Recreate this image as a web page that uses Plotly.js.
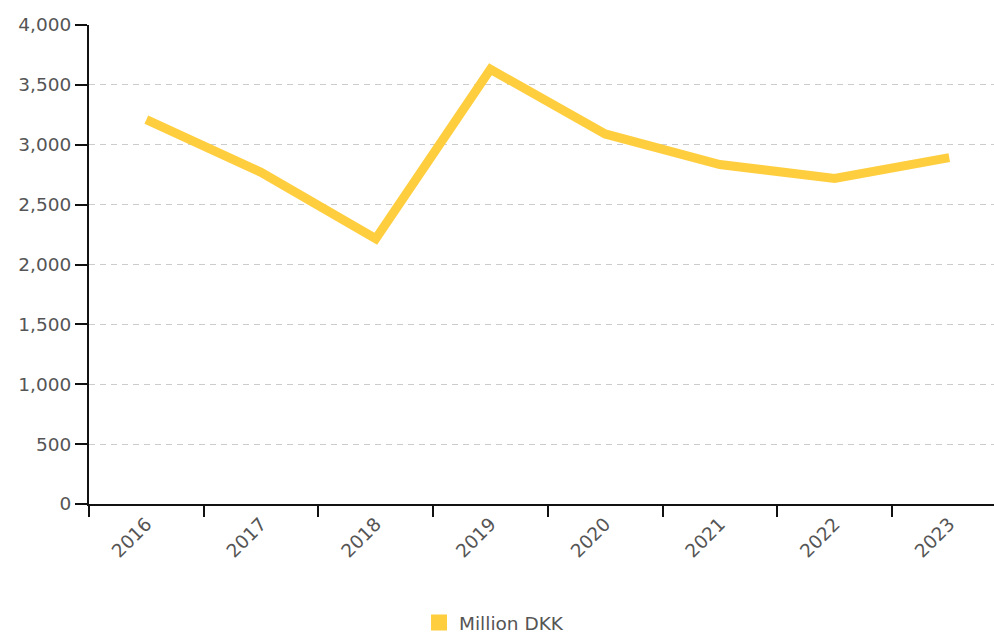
<!DOCTYPE html>
<html>
<head>
<meta charset="utf-8">
<script src="https://cdn.plot.ly/plotly-3.0.1.min.js"></script>
<style>
  html, body { margin: 0; padding: 0; background: #fff; }
  #chart { width: 994px; height: 633px; }
</style>
</head>
<body>
<div id="chart"></div>
<script>
// Yearly figures, million DKK
const years = ['2016', '2017', '2018', '2019', '2020', '2021', '2022', '2023'];
const values = [3210, 2770, 2215, 3630, 3090, 2835, 2718, 2893];
const seriesName = 'Million DKK';
const yTicks = [0, 500, 1000, 1500, 2000, 2500, 3000, 3500, 4000];

const lineColor = '#FFCE3F';
const textColor = '#555555';
const fontFamily = '"DejaVu Sans", sans-serif';
const fontSize = 18.5;

const traces = [
  {
    type: 'scatter',
    mode: 'lines',
    x: years,
    y: values,
    line: { color: lineColor, width: 9 },
    showlegend: false,
    hoverinfo: 'x+y'
  },
  {
    // legend swatch only
    type: 'scatter',
    mode: 'markers',
    x: [null],
    y: [null],
    name: seriesName,
    marker: { symbol: 'square', color: lineColor, size: 16 },
    showlegend: true
  }
];

const layout = {
  width: 994,
  height: 633,
  margin: { l: 89, r: 0, t: 25, b: 129 },
  paper_bgcolor: '#ffffff',
  plot_bgcolor: '#ffffff',
  font: { family: fontFamily, size: fontSize, color: textColor },
  xaxis: {
    type: 'category',
    range: [-0.5, 7.39],
    tickson: 'boundaries',
    ticks: 'outside',
    ticklen: 11,
    tickwidth: 2,
    tickcolor: '#111',
    tickangle: -45,
    showline: true,
    linecolor: '#111',
    linewidth: 2,
    showgrid: false,
    zeroline: false,
    tickfont: { family: fontFamily, size: fontSize, color: textColor }
  },
  yaxis: {
    range: [0, 4000],
    tickvals: yTicks,
    ticktext: yTicks.map(v => v.toLocaleString('en-US')),
    ticks: 'outside',
    ticklen: 12,
    tickwidth: 2,
    tickcolor: '#111',
    showline: true,
    linecolor: '#111',
    linewidth: 2,
    showgrid: true,
    gridcolor: '#cccccc',
    gridwidth: 1,
    griddash: '6px,5px',
    zeroline: false,
    tickfont: { family: fontFamily, size: fontSize, color: textColor }
  },
  legend: {
    orientation: 'h',
    xref: 'container',
    yref: 'container',
    x: 0.497,
    xanchor: 'center',
    y: 0.016,
    yanchor: 'middle',
    font: { family: fontFamily, size: fontSize, color: textColor },
    itemclick: false
  },
  hovermode: 'closest'
};

Plotly.newPlot('chart', traces, layout, { displayModeBar: false });
</script>
</body>
</html>
